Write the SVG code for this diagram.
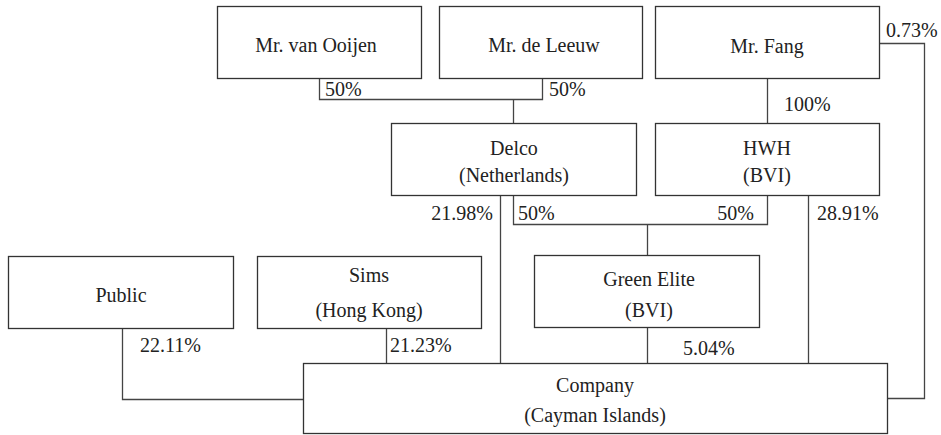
<svg xmlns="http://www.w3.org/2000/svg" width="941" height="435" viewBox="0 0 941 435">
<style>
.box{fill:#fff;stroke:#333;stroke-width:1.3}
.ln{fill:none;stroke:#444;stroke-width:1.3}
text{font-size:20px;fill:#222}
.c{text-anchor:middle}
.e{text-anchor:end}
</style>
<rect width="941" height="435" fill="#fff"/>
<g font-family="Liberation Serif, Times New Roman, DejaVu Serif, serif">
<g id="connectors">
<path class="ln" d="M319.5 78.5 V99.5 H542.5 V78.5"/>
<path class="ln" d="M513.5 99.5 V123.5"/>
<path class="ln" d="M767.5 78.5 V123.5"/>
<path class="ln" d="M879.5 43.5 H924.5 V398.5 H887.5"/>
<path class="ln" d="M500.5 195.5 V363.5"/>
<path class="ln" d="M513.5 195.5 V224.5 H767.5 V195.5"/>
<path class="ln" d="M647.5 224.5 V255.5"/>
<path class="ln" d="M808.5 195.5 V363.5"/>
<path class="ln" d="M122.5 328.5 V399.5 H303.5"/>
<path class="ln" d="M386.5 328.5 V363.5"/>
<path class="ln" d="M647.5 327.5 V363.5"/>
<text x="325" y="96">50%</text>
<text x="549" y="96">50%</text>
<text x="886" y="37">0.73%</text>
<text x="784" y="111">100%</text>
<text class="e" x="493" y="220">21.98%</text>
<text x="518" y="220">50%</text>
<text class="e" x="754" y="220">50%</text>
<text x="817" y="220">28.91%</text>
<text x="140" y="352">22.11%</text>
<text x="390" y="352">21.23%</text>
<text x="683" y="355">5.04%</text>
</g>
<g id="vanOoijen">
<rect class="box" x="217.5" y="6.5" width="204" height="72"/>
<text class="c" x="316" y="52">Mr. van Ooijen</text>
</g>
<g id="deLeeuw">
<rect class="box" x="439.5" y="6.5" width="203" height="72"/>
<text class="c" x="544" y="52">Mr. de Leeuw</text>
</g>
<g id="fang">
<rect class="box" x="655.5" y="6.5" width="224" height="72"/>
<text class="c" x="767" y="53">Mr. Fang</text>
</g>
<g id="delco">
<rect class="box" x="391.5" y="123.5" width="245" height="72"/>
<text class="c" x="514" y="155">Delco</text>
<text class="c" x="514" y="182">(Netherlands)</text>
</g>
<g id="hwh">
<rect class="box" x="655.5" y="123.5" width="224" height="72"/>
<text class="c" x="767" y="155">HWH</text>
<text class="c" x="767" y="182">(BVI)</text>
</g>
<g id="public">
<rect class="box" x="8.5" y="256.5" width="225" height="72"/>
<text class="c" x="121" y="302">Public</text>
</g>
<g id="sims">
<rect class="box" x="257.5" y="256.5" width="224" height="72"/>
<text class="c" x="369" y="282">Sims</text>
<text class="c" x="369" y="317">(Hong Kong)</text>
</g>
<g id="greenElite">
<rect class="box" x="534.5" y="255.5" width="225" height="72"/>
<text class="c" x="649" y="286">Green Elite</text>
<text class="c" x="649" y="317">(BVI)</text>
</g>
<g id="company">
<rect class="box" x="303.5" y="363.5" width="584" height="70"/>
<text class="c" x="595" y="392">Company</text>
<text class="c" x="595" y="422">(Cayman Islands)</text>
</g>
</g>
</svg>
